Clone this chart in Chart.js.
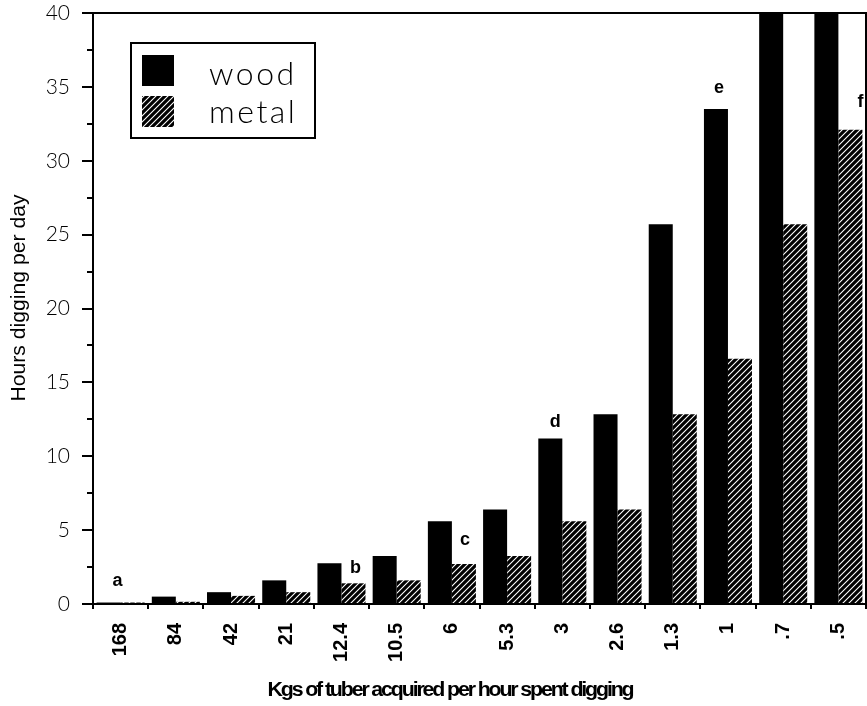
<!DOCTYPE html>
<html>
<head>
<meta charset="utf-8">
<script src="https://cdn.jsdelivr.net/npm/chart.js@4.4.1/dist/chart.umd.min.js"></script>
<style>
html,body{margin:0;padding:0;background:#fff;}
#wrap{width:867px;height:706px;}
</style>
</head>
<body>
<div id="wrap"><canvas id="c" width="867" height="706"></canvas></div>
<script>
// ---- data ----
const categories = ['168','84','42','21','12.4','10.5','6','5.3','3','2.6','1.3','1','.7','.5'];
const woodHours  = [0.1, 0.5, 0.8, 1.6, 2.75, 3.25, 5.6, 6.4, 11.2, 12.85, 25.7, 33.5, 51.4, 64.2];
const metalHours = [0.1, 0.15, 0.55, 0.8, 1.4, 1.6, 2.7, 3.25, 5.6, 6.4, 12.85, 16.6, 25.7, 32.1];
const seriesNames = ['wood','metal'];
const yTicks = [0,5,10,15,20,25,30,35,40];
const noteLetters = ['a','b','c','d','e','f'];
const noteCategory = ['168','12.4','6','3','1','.5'];
const noteSeries = [0,1,1,0,0,1];
const xTitle = 'Kgs of tuber acquired per hour spent digging';
const yTitle = 'Hours digging per day';

// ---- styles ----
const LIGHT = '"Lato", "Open Sans", "DejaVu Sans", sans-serif';
const SANS = '"Liberation Sans", Arial, sans-serif';
const noteOffsets = [[9,-17],[2,-10],[1,-19],[5,-12],[3,-16],[10,-23]];

function makeHatch(ctx){
  const c = document.createElement('canvas');
  c.width = 6; c.height = 6;
  const g = c.getContext('2d');
  g.fillStyle = '#000'; g.fillRect(0,0,6,6);
  g.strokeStyle = '#fff'; g.lineWidth = 1.1;
  g.beginPath();
  g.moveTo(0,6); g.lineTo(6,0);
  g.moveTo(-1,1); g.lineTo(1,-1);
  g.moveTo(5,7); g.lineTo(7,5);
  g.stroke();
  return ctx.createPattern(c,'repeat');
}

const canvas = document.getElementById('c');
const ctx0 = canvas.getContext('2d');
const hatch = makeHatch(ctx0);

const decor = {
  id:'decor',
  afterDatasetsDraw(chart){
    const ctx = chart.ctx, a = chart.chartArea;
    const ys = chart.scales.y;
    ctx.save();
    ctx.strokeStyle = '#000'; ctx.lineWidth = 2;
    ctx.beginPath();
    ctx.moveTo(a.left, a.top); ctx.lineTo(a.right, a.top); ctx.lineTo(a.right, a.bottom);
    ctx.stroke();
    // minor y ticks
    for (let i = 0; i < yTicks.length - 1; i++){
      const v = (yTicks[i] + yTicks[i+1]) / 2;
      const y = Math.round(ys.getPixelForValue(v));
      ctx.beginPath(); ctx.moveTo(a.left - 6, y); ctx.lineTo(a.left, y); ctx.stroke();
    }
    // annotation letters
    ctx.fillStyle = '#000';
    ctx.font = 'bold 18px ' + SANS;
    ctx.textAlign = 'center'; ctx.textBaseline = 'alphabetic';
    noteLetters.forEach((t,i)=>{
      const idx = categories.indexOf(noteCategory[i]);
      const bar = chart.getDatasetMeta(noteSeries[i]).data[idx];
      const y = Math.max(bar.y, a.top);
      ctx.fillText(t, bar.x + noteOffsets[i][0], y + noteOffsets[i][1]);
    });
    // legend
    const lx = 131, ly = 43, lw = 184, lh = 95;
    ctx.fillStyle = '#fff';
    ctx.fillRect(lx, ly, lw, lh);
    ctx.strokeStyle = '#000'; ctx.lineWidth = 2;
    ctx.strokeRect(lx, ly, lw, lh);
    chart.data.datasets.forEach((ds,i)=>{
      ctx.fillStyle = ds.backgroundColor;
      ctx.fillRect(142, 55 + i*41, 32, 31);
      ctx.fillStyle = '#000';
      ctx.font = '300 32px ' + LIGHT;
      ctx.letterSpacing = '2.5px';
      ctx.textAlign = 'left';
      ctx.fillText(ds.label, 209, 85 + i*38);
      ctx.letterSpacing = '0px';
    });
    ctx.restore();
  },
  afterDraw(chart){
    const ctx = chart.ctx;
    ctx.save();
    ctx.fillStyle = '#000';
    ctx.font = '21px ' + SANS;
    ctx.textAlign = 'center'; ctx.textBaseline = 'alphabetic';
    let w = ctx.measureText(yTitle).width;
    ctx.translate(25, 298);
    ctx.rotate(-Math.PI/2);
    ctx.scale(207 / w, 1);
    ctx.fillText(yTitle, 0, 0);
    ctx.restore();
    ctx.save();
    ctx.fillStyle = '#000';
    ctx.font = 'bold 20px ' + SANS;
    ctx.letterSpacing = '-2px';
    ctx.textAlign = 'center'; ctx.textBaseline = 'alphabetic';
    w = ctx.measureText(xTitle).width;
    ctx.translate(450, 696);
    ctx.scale(365 / w, 1);
    ctx.fillText(xTitle, 0, 0);
    ctx.restore();
  }
};

new Chart(canvas, {
  type:'bar',
  data:{
    labels: categories,
    datasets:[
      {label: seriesNames[0], data: woodHours, backgroundColor:'#000', borderWidth:0,
       categoryPercentage:0.87, barPercentage:1.0},
      {label: seriesNames[1], data: metalHours, backgroundColor: hatch, borderWidth:0,
       categoryPercentage:0.87, barPercentage:1.0}
    ]
  },
  options:{
    responsive:false,
    animation:false,
    devicePixelRatio:1,
    layout:{padding:{top:13, right:1, left:0, bottom:0}},
    plugins:{legend:{display:false}, tooltip:{enabled:false}},
    scales:{
      x:{
        grid:{drawOnChartArea:false, tickLength:5, color:'#000', lineWidth:2, offset:true},
        border:{color:'#000', width:2},
        ticks:{minRotation:90, maxRotation:90, autoSkip:false, padding:14, color:'#000',
               font:{family:SANS, size:20, weight:'bold'}},
        afterFit(s){ s.height = 102; s.paddingLeft = 0; s.paddingRight = 0; }
      },
      y:{
        min:0, max:40,
        afterBuildTicks(s){ s.ticks = yTicks.map(v=>({value:v})); },
        grid:{drawOnChartArea:false, tickLength:11, color:'#000', lineWidth:2},
        border:{color:'#000', width:2},
        ticks:{padding:12, color:'#000', font:{family:LIGHT, size:21, weight:300}},
        afterFit(s){ s.width = 93; s.paddingTop = 0; s.paddingBottom = 0; }
      }
    }
  },
  plugins:[decor]
});
</script>
</body>
</html>
